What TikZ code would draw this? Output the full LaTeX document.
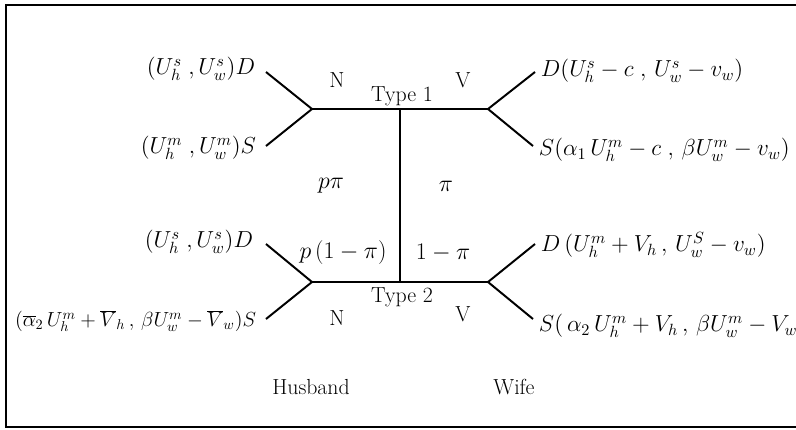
\documentclass[tikz,border=0pt]{standalone}
\usepackage{fix-cm}
\usetikzlibrary{positioning}
\begin{document}
\begin{tikzpicture}[x=0.025cm,y=-0.025cm,line width=1.4pt,
    txt/.style={font=\fontsize{15.5}{18}\selectfont,inner sep=0pt},
    pay/.style={font=\fontsize{16.5}{19}\selectfont,inner sep=0pt},
    paysmall/.style={font=\fontsize{14.5}{17}\selectfont,inner sep=0pt},
    prob/.style={font=\fontsize{17}{20}\selectfont,inner sep=0pt}]
    \useasboundingbox (0,0) rectangle (796,429);
    % frame, open on the right
    \draw[line width=1.6pt] (800,5) -- (6,5) -- (6,427) -- (800,427);
    % decision points
    \coordinate (h1) at (312,109);
    \coordinate (w1) at (488,109);
    \coordinate (m1) at (400,109);
    \coordinate (h2) at (312,282);
    \coordinate (w2) at (488,282);
    \coordinate (m2) at (400,282);
    \coordinate (h1d) at (266,72);  \coordinate (h1s) at (266,146);
    \coordinate (w1d) at (535,72);  \coordinate (w1s) at (533,146);
    \coordinate (h2d) at (266,244); \coordinate (h2s) at (266,319);
    \coordinate (w2d) at (535,244); \coordinate (w2s) at (533,319);
    \draw (h1) -- (w1);
    \draw (h2) -- (w2);
    \draw (m1) -- (m2);
    \foreach \j in {h1,w1,h2,w2} {
      \draw (\j) -- (\j d);
      \draw (\j) -- (\j s);
    }
    % labels on the tree
    \node[txt] (n1) at (337,80) {N};
    \node[txt] (v1) at (463,80) {V};
    \node[txt] (t1) at (402,96) {Type 1};
    \node[txt] (n2) at (337,318) {N};
    \node[txt] (v2) at (463,314) {V};
    \node[txt] (t2) at (402,297) {Type 2};
    \node[prob] (pp) at (331,186) {$p\pi$};
    \node[prob] (pi) at (446,186) {$\pi$};
    \node[prob] (pq) at (343,253) {$p\,(1-\pi)$};
    \node[prob] (qi) at (443,253) {$1-\pi$};
    \node[txt] (hus) at (311,387) {Husband};
    \node[txt] (wif) at (514,387) {Wife};
    % payoffs
    \node[pay,anchor=east] (ph1d) at (256,69) {$(U^s_h\;,U^s_w)D$};
    \node[pay,anchor=east] (ph1s) at (257,148) {$(U^m_h\;,U^m_w)S$};
    \node[pay,anchor=west] (pw1d) at (540,71) {$D(U^s_h-c\;,\,U^s_w-v_w)$};
    \node[pay,anchor=west] (pw1s) at (538,150) {$S(\alpha_1\,U^m_h-c\;,\,\beta U^m_w-v_w)$};
    \node[pay,anchor=east] (ph2d) at (254,242) {$(U^s_h\;,U^s_w)D$};
    \node[paysmall,anchor=east] (ph2s) at (257,321) {$(\overline{\alpha}_2\,U^m_h+\overline{V}_h\,,\,\beta U^m_w-\overline{V}_w)S$};
    \node[pay,anchor=west] (pw2d) at (540,245) {$D\,\bigl(U^m_h+V_h\,,\,U^S_w-v_w\bigr)$};
    \node[pay,anchor=west] (pw2s) at (538,326) {$S\bigl(\,\alpha_2\,U^m_h+V_h\,,\,\beta U^m_w-V_w\bigr)$};
  \end{tikzpicture}
\end{document}
